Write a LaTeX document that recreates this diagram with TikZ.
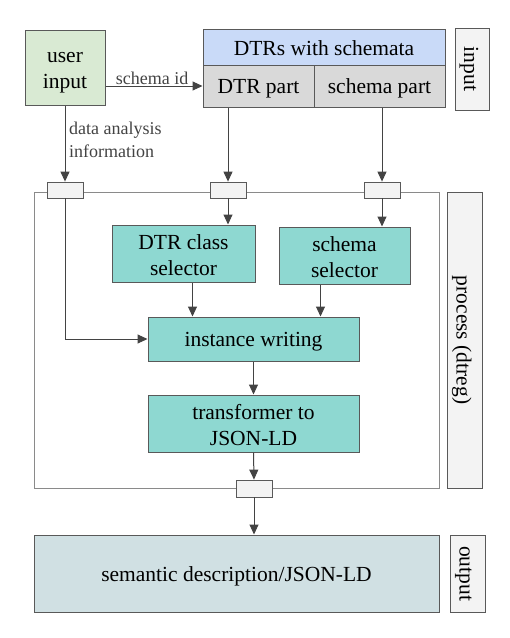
\documentclass[tikz,border=0pt]{standalone}
\usepackage{fontspec}
\setmainfont{Liberation Serif}
\newfontfamily\tms{Liberation Serif}
\usetikzlibrary{arrows.meta}
\newcommand\gs{\rule[-0.14em]{0pt}{1.09em}}
\definecolor{ugreen}{HTML}{D9EAD3}
\definecolor{hblue}{HTML}{C9DAF8}
\definecolor{pgray}{HTML}{D9D9D9}
\definecolor{lgray}{HTML}{F3F3F3}
\definecolor{tealc}{HTML}{8ED8D1}
\definecolor{outc}{HTML}{D0E0E3}
\definecolor{bline}{HTML}{595959}
\definecolor{pline}{HTML}{8A8A8A}
\definecolor{arrc}{HTML}{434343}
\tikzset{
  box/.style={draw=bline, line width=1pt, inner sep=0pt, align=center,
    font=\tms\fontsize{21.5}{25.8}\selectfont},
  sz/.style 2 args={minimum width=#1pt, minimum height=#2pt},
  port/.style={draw=bline, line width=0.8pt, fill=lgray, inner sep=0pt, minimum width=36pt, minimum height=16pt},
  arr/.style={draw=arrc, line width=1pt, -{Triangle[length=10pt,width=9pt]}},
  lbl/.style={text=arrc, font=\tms\fontsize{18}{22}\selectfont, inner sep=1pt},
  rot/.style={box, fill=lgray, rotate=-90}
}
\begin{document}
\begin{tikzpicture}[x=1pt,y=-1pt]
\useasboundingbox (0,0) rectangle (510,638);
% process container
\node[draw=pline, line width=1pt, sz={405}{296}] (process) at (236.5,340) {};
% input area
\node[box, fill=ugreen, sz={80}{75}] (user) at (65,67.5) {\gs user\\\gs input};
\node[box, fill=hblue, sz={242}{36}] (header) at (324,47) {\gs DTRs with schemata};
\node[box, fill=pgray, sz={111}{42}] (dtrpart) at (258.5,86) {\gs DTR part};
\node[box, fill=pgray, sz={131}{42}] (schemapart) at (379.5,86) {\gs schema part};
\node[rot, sz={82}{34}] (inputlbl) at (472,69) {\gs input};
% ports
\node[port] (p1) at (65,190) {};
\node[port] (p2) at (228,190) {};
\node[port] (p3) at (382,190) {};
\node[port, minimum height=17pt] (p4) at (254,488.5) {};
% process boxes
\node[box, fill=tealc, sz={143}{57}] (dtrclass) at (183.5,253.5) {\gs DTR class\\\gs selector};
\node[box, fill=tealc, sz={131}{57}] (schemasel) at (344.5,255.5) {\gs schema\\\gs selector};
\node[box, fill=tealc, sz={211}{44}] (instance) at (253.5,339) {\gs instance writing};
\node[box, fill=tealc, sz={211}{57}] (transformer) at (253.5,423.5) {\gs transformer to\\\gs JSON-LD};
\node[rot, sz={296}{35}] (proclbl) at (464.5,340) {\gs process (dtreg)};
% output
\node[box, fill=outc, sz={405}{77}] (output) at (236.5,573.5) {\gs semantic description/JSON-LD};
\node[rot, sz={77}{35}] (outlbl) at (467.5,573.5) {\gs output};
% connectors
\draw[arr] (user.east |- dtrpart.west) -- node[lbl, above, pos=0.48] {schema id} (dtrpart.west);
\draw[arr] (user.south) -- (p1.north);
\node[lbl, anchor=north west, align=left, font=\tms\fontsize{18}{22.5}\selectfont] (dai) at (68,121) {data analysis\\information};
\draw[arr] (dtrpart.south -| p2.north) -- (p2.north);
\draw[arr] (schemapart.south -| p3.north) -- (p3.north);
\draw[arr] (p2.south) -- (p2.south |- dtrclass.north);
\draw[arr] (p3.south) -- (p3.south |- schemasel.north);
\draw[arr] ([xshift=9pt]dtrclass.south) -- ([xshift=9pt]dtrclass.south |- instance.north);
\draw[arr] ([xshift=-24pt]schemasel.south) -- ([xshift=-24pt]schemasel.south |- instance.north);
\draw[arr] (p1.south) |- (instance.west);
\draw[arr] (instance.south) -- (transformer.north);
\draw[arr] (transformer.south) -- (p4.north);
\draw[arr] (p4.south) -- (p4.south |- output.north);
\end{tikzpicture}
\end{document}
